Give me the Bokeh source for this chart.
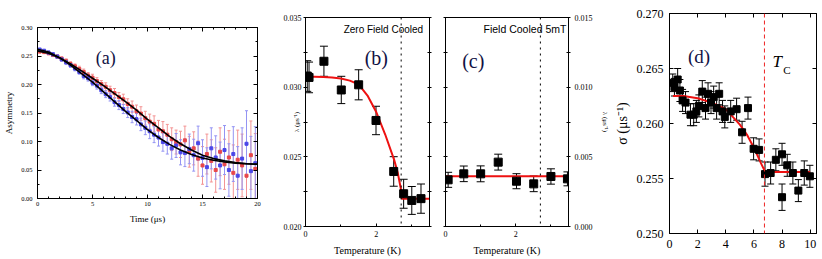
from bokeh.plotting import figure
from bokeh.layouts import row
from bokeh.models import (ColumnDataSource, Whisker, TeeHead, Label, Span,
                          FixedTicker, LinearAxis, Range1d, PrintfTickFormatter,
                          CustomLabelingPolicy)
from bokeh.embed import file_html
from bokeh.resources import INLINE

SERIF = "Liberation Serif"
SANS = "Liberation Sans"
NAVY = "#111144"

# ---------------- panel (a): asymmetry vs time ----------------
a_time = [0.2, 0.6, 1.0, 1.4, 1.8, 2.2, 2.6, 3.0, 3.4, 3.8,
          4.2, 4.6, 5.0, 5.4, 5.8, 6.2, 6.6, 7.0, 7.4, 7.8,
          8.2, 8.6, 9.0, 9.4, 9.8, 10.2, 10.6, 11.0, 11.4, 11.8,
          12.2, 12.6, 13.0, 13.4, 13.8, 14.2, 14.6, 15.0, 15.4, 15.8,
          16.2, 16.6, 17.0, 17.4, 17.8, 18.2, 18.6, 19.0, 19.4, 19.8]
a_blue = [0.261, 0.259, 0.256, 0.253, 0.249, 0.244, 0.239, 0.234, 0.228, 0.222,
          0.215, 0.211, 0.203, 0.198, 0.190, 0.183, 0.178, 0.169, 0.164, 0.157,
          0.151, 0.143, 0.139, 0.130, 0.124, 0.118, 0.112, 0.107, 0.099, 0.096,
          0.088, 0.093, 0.081, 0.080, 0.087, 0.076, 0.097, 0.071, 0.055, 0.088,
          0.072, 0.058, 0.085, 0.050, 0.078, 0.040, 0.070, 0.096, 0.048, 0.062]
a_blue_err = [0.003, 0.003, 0.003, 0.003, 0.003, 0.003, 0.004, 0.004, 0.004, 0.004,
              0.005, 0.005, 0.005, 0.006, 0.006, 0.006, 0.007, 0.007, 0.008, 0.008,
              0.009, 0.010, 0.010, 0.011, 0.012, 0.013, 0.014, 0.015, 0.016, 0.018,
              0.019, 0.021, 0.022, 0.024, 0.026, 0.028, 0.030, 0.032, 0.034, 0.036,
              0.038, 0.041, 0.043, 0.046, 0.048, 0.051, 0.054, 0.058, 0.061, 0.064]
a_red = [0.258, 0.257, 0.255, 0.252, 0.249, 0.245, 0.241, 0.236, 0.232, 0.227,
         0.222, 0.216, 0.212, 0.206, 0.201, 0.196, 0.190, 0.185, 0.178, 0.174,
         0.166, 0.161, 0.153, 0.149, 0.141, 0.135, 0.131, 0.121, 0.118, 0.112,
         0.104, 0.099, 0.095, 0.102, 0.082, 0.088, 0.070, 0.058, 0.078, 0.066,
         0.050, 0.082, 0.060, 0.072, 0.045, 0.068, 0.058, 0.040, 0.076, 0.052]
a_red_err = [0.003, 0.003, 0.003, 0.003, 0.003, 0.004, 0.004, 0.004, 0.004, 0.005,
             0.005, 0.005, 0.006, 0.006, 0.006, 0.007, 0.007, 0.008, 0.008, 0.009,
             0.009, 0.010, 0.011, 0.012, 0.012, 0.013, 0.014, 0.016, 0.017, 0.018,
             0.020, 0.021, 0.023, 0.025, 0.027, 0.029, 0.031, 0.033, 0.035, 0.037,
             0.039, 0.042, 0.044, 0.047, 0.049, 0.052, 0.055, 0.057, 0.060, 0.062]
a_fit_time = [0, 1, 2, 3, 4, 5, 6, 7, 8, 9, 10, 11, 12, 13, 14, 15, 16, 17, 18, 19, 20]
a_fit_blue = [0.262, 0.257, 0.247, 0.234, 0.219, 0.204, 0.187, 0.170, 0.153, 0.137, 0.121,
              0.107, 0.095, 0.085, 0.077, 0.071, 0.067, 0.064, 0.062, 0.061, 0.060]
a_fit_red = [0.259, 0.255, 0.247, 0.236, 0.224, 0.211, 0.198, 0.184, 0.170, 0.155, 0.139,
             0.124, 0.109, 0.096, 0.085, 0.076, 0.070, 0.066, 0.063, 0.061, 0.060]
a_xticks = [0, 5, 10, 15, 20]
a_xminor = [1, 2, 3, 4, 6, 7, 8, 9, 11, 12, 13, 14, 16, 17, 18, 19]
a_yticks = [0.0, 0.05, 0.10, 0.15, 0.20, 0.25, 0.30]
a_yminor = [0.025, 0.075, 0.125, 0.175, 0.225, 0.275]

# ---------------- panel (b): zero field cooled ----------------
b_temp = [0.05, 0.10, 0.52, 1.01, 1.50, 1.99, 2.49, 2.77, 3.00, 3.26]
b_lam = [0.0308, 0.0307, 0.03186, 0.0298, 0.03017, 0.02761, 0.02395, 0.02235, 0.02187, 0.0220]
b_err = [0.0011, 0.0011, 0.00108, 0.00098, 0.00108, 0.00102, 0.00106, 0.00104, 0.0010, 0.00105]
b_fit_temp = [0, 0.25, 0.5, 0.75, 1.0, 1.25, 1.5, 1.75, 2.0, 2.25, 2.5, 2.6, 2.7, 2.72, 3.5]
b_fit = [0.03075, 0.03075, 0.03073, 0.0307, 0.03062, 0.03047, 0.0302, 0.0294, 0.0282,
         0.0266, 0.0248, 0.0239, 0.0226, 0.0220, 0.0220]
b_tc = 2.70
b_yticks = [0.020, 0.025, 0.030, 0.035]
b_yminor = [0.0225, 0.0275, 0.0325]

# ---------------- panel (c): field cooled 5 mT ----------------
c_temp = [0.075, 0.52, 1.0, 1.5, 2.02, 2.51, 3.0, 3.47]
c_lam = [0.00335, 0.00378, 0.00378, 0.00462, 0.00325, 0.00306, 0.00359, 0.00342]
c_err = [0.00054, 0.00056, 0.00057, 0.00057, 0.00054, 0.00056, 0.00055, 0.0005]
c_fit_temp = [0.0, 3.5]
c_fit = [0.00361, 0.00361]
c_tc = 2.70
c_yticks = [0.000, 0.005, 0.010, 0.015]
c_yminor = [0.0025, 0.0075, 0.0125]
bc_xticks = [0, 2]
bc_xminor = [1, 3]

# ---------------- panel (d): sigma vs temperature ----------------
d_temp = [0.23, 0.35, 0.58, 0.74, 0.93, 1.14, 1.49, 1.72, 1.91, 2.09, 2.33, 2.56, 2.74,
          2.95, 3.14, 3.35, 3.53, 3.77, 3.93, 4.35, 4.77, 5.16, 5.58, 5.98, 6.37, 6.79,
          7.19, 7.56, 8.0, 8.0, 8.37, 8.77, 9.16, 9.58, 9.98]
d_sig = [0.2637, 0.2633, 0.2640, 0.2630, 0.2621, 0.2619, 0.2608, 0.2608, 0.2611, 0.2616,
         0.2629, 0.2614, 0.2627, 0.2619, 0.2624, 0.2614, 0.2627, 0.2611, 0.2606, 0.2611,
         0.2613, 0.2592, 0.2614, 0.2577, 0.2576, 0.2554, 0.2555, 0.2567, 0.2572, 0.2533,
         0.2562, 0.2555, 0.2539, 0.2555, 0.2552]
d_err = [0.0008, 0.0008, 0.0010, 0.0010, 0.0010, 0.0010, 0.0010, 0.0010, 0.0010, 0.0010,
         0.0010, 0.0010, 0.0010, 0.0010, 0.0010, 0.0010, 0.0010, 0.0010, 0.0010, 0.0010,
         0.0010, 0.0010, 0.0010, 0.0010, 0.0010, 0.0011, 0.0010, 0.0010, 0.0010, 0.0012,
         0.0010, 0.0010, 0.0010, 0.0011, 0.0010]
d_fit_temp = [0.25, 1, 2, 3, 4, 4.5, 5, 5.5, 6, 6.5, 6.8, 10]
d_fit = [0.2625, 0.2625, 0.2623, 0.2619, 0.2613, 0.2606, 0.2599, 0.2590, 0.2578, 0.2564,
         0.2556, 0.2556]
d_tc = 6.75
d_xticks = [0, 2, 4, 6, 8, 10]
d_yticks = [0.250, 0.255, 0.260, 0.265, 0.270]

NO_LABELS = """
try { return new indices.constructor(indices.size, 0) } catch (e) {}
for (let i = 0; i < indices.size; i++) { indices.unset(i) }
return indices
"""


def base_fig(w, h, xr, yr, bl, br, bt, bb):
    p = figure(width=w, height=h, x_range=Range1d(*xr), y_range=Range1d(*yr),
               output_backend="svg", toolbar_location=None, title=None,
               min_border_left=bl, min_border_right=br,
               min_border_top=bt, min_border_bottom=bb)
    p.frame_align = False
    p.xgrid.visible = False
    p.ygrid.visible = False
    p.outline_line_color = "black"
    p.outline_line_alpha = 1.0
    p.outline_line_width = 1
    p.background_fill_color = "white"
    p.border_fill_color = "white"
    return p


def style_axis(ax, ticks, minor, size, tin, tout, mtin, mtout, standoff, fmt=None, hide=False):
    ax.ticker = FixedTicker(ticks=ticks, minor_ticks=minor)
    ax.axis_line_color = "black"
    ax.major_tick_line_color = "black"
    ax.minor_tick_line_color = "black"
    ax.major_tick_in = tin
    ax.major_tick_out = tout
    ax.minor_tick_in = mtin
    ax.minor_tick_out = mtout
    ax.major_label_text_font = SERIF
    ax.major_label_text_color = "black"
    if hide:
        ax.major_label_standoff = 0
        ax.major_label_text_font_size = "1px"
        ax.major_label_policy = CustomLabelingPolicy(code=NO_LABELS)
    else:
        ax.major_label_standoff = standoff
        ax.major_label_text_font_size = f"{size}px"
    if fmt:
        ax.formatter = PrintfTickFormatter(format=fmt)


def style_label(ax, text, size, standoff):
    ax.axis_label = text
    ax.axis_label_text_font = SERIF
    ax.axis_label_text_font_size = f"{size}px"
    ax.axis_label_text_font_style = "normal"
    ax.axis_label_text_color = "black"
    ax.axis_label_standoff = standoff


def errbars(p, xs, ys, es, color, cap, width=1.0):
    src = ColumnDataSource(dict(x=xs, lo=[y - e for y, e in zip(ys, es)],
                                hi=[y + e for y, e in zip(ys, es)]))
    w = Whisker(source=src, base="x", lower="lo", upper="hi",
                line_color=color, line_width=width,
                upper_head=TeeHead(size=cap, line_color=color, line_width=width),
                lower_head=TeeHead(size=cap, line_color=color, line_width=width))
    p.add_layout(w)


def panel_label(p, text, x, y, size=18):
    p.add_layout(Label(x=x, y=y, text=text, text_font=SERIF, text_font_size=f"{size}px",
                       text_color=NAVY, text_align="center", text_baseline="middle"))


H = 259

# ======== figure (a) ========  frame x 37..257, y 27..198
fa = base_fig(268, H, (0, 20), (0, 0.30), 37, 11, 27, H - 27 - 171)
style_axis(fa.xaxis[0], a_xticks, a_xminor, 6.5, 4, 0, 2, 0, 3)
style_axis(fa.yaxis[0], a_yticks, a_yminor, 6.5, 4, 0, 2, 0, 5, fmt="%.2f")
style_label(fa.xaxis[0], "Time (μs)", 9, 5)
style_label(fa.yaxis[0], "Asymmetry", 9, 4)
ta = LinearAxis()
style_axis(ta, a_xticks, a_xminor, 6.5, 4, 0, 2, 0, 0, hide=True)
fa.add_layout(ta, "above")
ra = LinearAxis()
style_axis(ra, a_yticks, a_yminor, 6.5, 4, 0, 2, 0, 0, hide=True)
fa.add_layout(ra, "right")
errbars(fa, a_time, a_red, a_red_err, "#f39494", 3)
errbars(fa, a_time, a_blue, a_blue_err, "#9494f3", 3)
fa.scatter(a_time, a_red, marker="square", size=3, color="#e8474a")
fa.scatter(a_time, a_blue, marker="square", size=3, color="#4a47e8")
fa.line(a_fit_time, a_fit_red, line_color="black", line_width=1.6)
fa.line(a_fit_time, a_fit_blue, line_color="black", line_width=1.6)
panel_label(fa, "(a)", 6.2, 0.246, 18)

# ======== figure (b) ========  frame x 305..429, y 17..226
fb = base_fig(169, H, (0, 3.5), (0.020, 0.035), 37, 8, 17, H - 17 - 209)
style_axis(fb.xaxis[0], bc_xticks, bc_xminor, 8, 3, 0, 2, 0, 4)
style_axis(fb.yaxis[0], b_yticks, b_yminor, 8, 2, 2, 2, 2, 2, fmt="%.3f")
style_label(fb.xaxis[0], "Temperature (K)", 10, 5)
style_label(fb.yaxis[0], "λ (μs⁻¹)", 7, -20)
rb = LinearAxis()
style_axis(rb, b_yticks, b_yminor, 8, 2, 2, 2, 2, 0, hide=True)
fb.add_layout(rb, "right")
fb.add_layout(Span(location=b_tc, dimension="height", line_color="black",
                   line_dash="dotted", line_width=1))
errbars(fb, b_temp, b_lam, b_err, "black", 8)
fb.line(b_fit_temp, b_fit, line_color="#ee1111", line_width=2)
fb.scatter(b_temp, b_lam, marker="square", size=8, color="black")
fb.add_layout(Label(x=3.32, y=0.03414, text="Zero Field Cooled", text_font=SANS,
                    text_font_size="10px", text_color="black",
                    text_align="right", text_baseline="middle"))
panel_label(fb, "(b)", 2.0, 0.03206, 20)

# ======== figure (c) ========  frame x 445..569, y 17..226
fc = base_fig(174, H, (0, 3.5), (0.0, 0.015), 8, 42, 17, H - 17 - 209)
fc.yaxis[0].visible = False
style_axis(fc.xaxis[0], bc_xticks, bc_xminor, 8, 3, 0, 2, 0, 4)
style_label(fc.xaxis[0], "Temperature (K)", 10, 5)
lc = LinearAxis()
style_axis(lc, c_yticks, c_yminor, 8, 2, 2, 2, 2, 0, hide=True)
fc.add_layout(lc, "left")
rc = LinearAxis()
style_axis(rc, c_yticks, c_yminor, 8, 2, 2, 2, 2, 4, fmt="%.3f")
style_label(rc, "λ (μs⁻¹)", 7, 5)
fc.add_layout(rc, "right")
fc.add_layout(Span(location=c_tc, dimension="height", line_color="black",
                   line_dash="dotted", line_width=1))
errbars(fc, c_temp, c_lam, c_err, "black", 8)
fc.line(c_fit_temp, c_fit, line_color="#ee1111", line_width=2)
fc.scatter(c_temp, c_lam, marker="square", size=8, color="black")
fc.add_layout(Label(x=3.44, y=0.01414, text="Field Cooled 5mT", text_font=SANS,
                    text_font_size="10.5px", text_color="black",
                    text_align="right", text_baseline="middle"))
panel_label(fc, "(c)", 0.79, 0.01191, 20)

# ======== figure (d) ========  frame x 666..816, y 13..233
fd = base_fig(211, H, (0, 10.45), (0.250, 0.270), 55, 6, 13, H - 13 - 220)
style_axis(fd.xaxis[0], d_xticks, [], 12, 4, 0, 0, 0, 6)
style_axis(fd.yaxis[0], d_yticks, [], 12, 4, 0, 0, 0, 6, fmt="%.3f")
style_label(fd.yaxis[0], "σ (μs⁻¹)", 14, 4)
td = LinearAxis()
style_axis(td, d_xticks, [], 12, 4, 0, 0, 0, 0, hide=True)
fd.add_layout(td, "above")
rd = LinearAxis()
style_axis(rd, d_yticks, [], 12, 4, 0, 0, 0, 0, hide=True)
fd.add_layout(rd, "right")
fd.add_layout(Span(location=d_tc, dimension="height", line_color="#ee2222",
                   line_dash="4 3", line_width=1))
errbars(fd, d_temp, d_sig, d_err, "black", 7)
fd.line(d_fit_temp, d_fit, line_color="#ee1111", line_width=2)
fd.scatter(d_temp, d_sig, marker="square", size=7, color="black")
panel_label(fd, "(d)", 2.1, 0.2661, 19)
fd.add_layout(Label(x=7.65, y=0.2656, text="T", text_font=SERIF, text_font_style="italic",
                    text_font_size="17px", text_color="black",
                    text_align="center", text_baseline="middle"))
fd.add_layout(Label(x=8.35, y=0.2649, text="C", text_font=SERIF,
                    text_font_size="11px", text_color="black",
                    text_align="center", text_baseline="middle"))

layout = row(fa, fb, fc, fd, spacing=0)
open("out.html", "w").write(file_html(layout, INLINE))
